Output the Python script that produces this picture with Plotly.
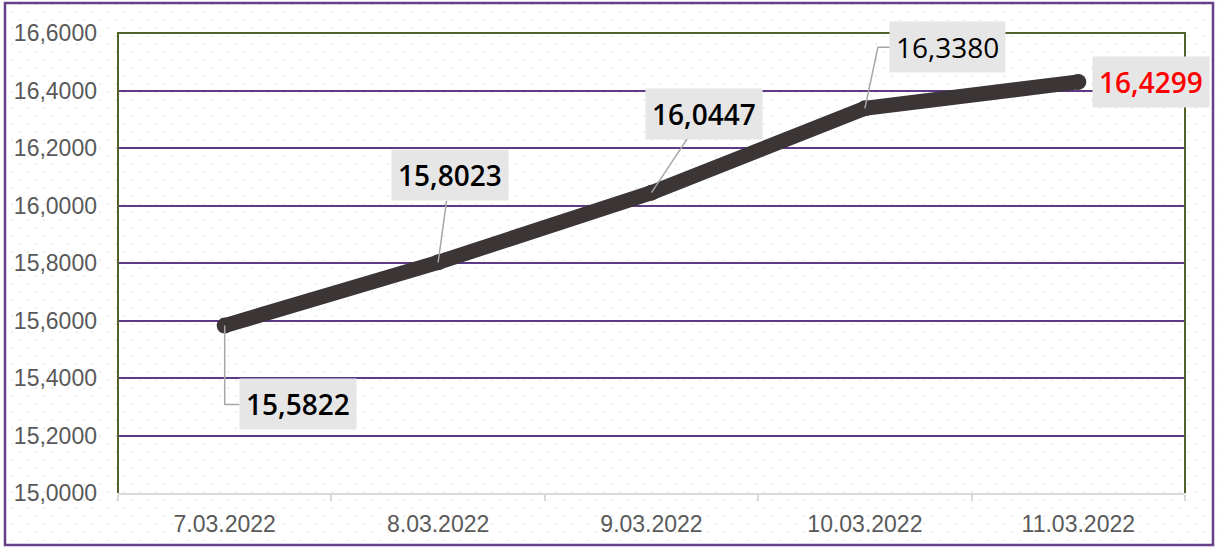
import base64
import plotly.graph_objects as go

# ---- data ----
categories = ["7.03.2022", "8.03.2022", "9.03.2022", "10.03.2022", "11.03.2022"]
values = [15.5822, 15.8023, 16.0447, 16.3380, 16.4299]
y_ticks = [15.0, 15.2, 15.4, 15.6, 15.8, 16.0, 16.2, 16.4, 16.6]

# ---- layout constants ----
W, H = 1220, 548
ML, MR, MT, MB = 118, 35, 33, 55
PW, PH = W - ML - MR, H - MT - MB

def px_to_paper_x(px):
    return (px - ML) / PW

def px_to_paper_y(py):
    return (H - MB - py) / PH

LINE_COLOR = "#3b3536"
GRID_COLOR = "#5e3a86"
GREEN = "#4f6228"
LABEL_BG = "#e7e6e6"
LEADER = "#a6a6a6"

# dotted background pattern as svg data uri
svg = (
    f'<svg xmlns="http://www.w3.org/2000/svg" width="{W}" height="{H}">'
    '<defs><pattern id="p" width="16" height="16" patternUnits="userSpaceOnUse">'
    '<rect x="3.5" y="3.5" width="1.4" height="1.4" fill="#dcdcdc"/>'
    '<rect x="11.5" y="11.5" width="1.4" height="1.4" fill="#dcdcdc"/>'
    '</pattern></defs>'
    f'<rect width="{W}" height="{H}" fill="url(#p)"/></svg>'
)
svg_uri = "data:image/svg+xml;base64," + base64.b64encode(svg.encode()).decode()

fig = go.Figure()
fig.add_trace(go.Scatter(
    x=categories, y=values, mode="lines+markers",
    line=dict(color=LINE_COLOR, width=15),
    marker=dict(color=LINE_COLOR, size=16),
    hoverinfo="skip", showlegend=False,
))

def fmt(v):
    return f"{v:.4f}".replace(".", ",")

# label styles: (ax, ay, weight, color, arrow)
label_style = [
    (73, 78, 600, "#000000", False),
    (12, -87, 600, "#000000", True),
    (52.5, -79, 600, "#000000", True),
    (83, -61, 400, "#000000", False),
    (73, 0, 600, "#ff0000", False),
]

annotations = []
for c, v, (ax, ay, w, col, arrow) in zip(categories, values, label_style):
    annotations.append(dict(
        x=c, y=v, xref="x", yref="y", text=fmt(v),
        showarrow=True, ax=ax, ay=ay, axref="pixel", ayref="pixel",
        arrowhead=0, arrowwidth=1.5,
        arrowcolor=LEADER if arrow else "rgba(0,0,0,0)",
        standoff=0, startstandoff=0,
        bgcolor=LABEL_BG, borderpad=6,
        font=dict(family="Open Sans, Noto Sans, sans-serif", size=28, color=col, weight=w),
    ))

shapes = [
    # outer purple border
    dict(type="rect", xref="paper", yref="paper",
         x0=px_to_paper_x(5), x1=px_to_paper_x(1213),
         y0=px_to_paper_y(545), y1=px_to_paper_y(3),
         line=dict(color="#66418a", width=2.5), layer="above"),
    # green plot-area border (left, top, right)
    dict(type="path", xref="paper", yref="paper",
         path="M0,0 L0,1 L1,1 L1,0",
         line=dict(color=GREEN, width=2), layer="above"),
    # elbow leader lines
    dict(type="path", xref="x", yref="y", xsizemode="pixel", ysizemode="pixel",
         xanchor=0, yanchor=values[0], path="M0,0 L0,-79 L15,-79",
         line=dict(color=LEADER, width=1.5), layer="above"),
    dict(type="path", xref="x", yref="y", xsizemode="pixel", ysizemode="pixel",
         xanchor=3, yanchor=values[3], path="M0,0 L13,61 L26,61",
         line=dict(color=LEADER, width=1.5), layer="above"),
]

fig.update_layout(
    width=W, height=H,
    margin=dict(l=ML, r=MR, t=MT, b=MB, pad=0),
    paper_bgcolor="white", plot_bgcolor="rgba(0,0,0,0)",
    separators=", ",
    showlegend=False,
    annotations=annotations,
    shapes=shapes,
    images=[dict(source=svg_uri, xref="paper", yref="paper",
                 x=px_to_paper_x(0), y=px_to_paper_y(0),
                 sizex=W / PW, sizey=H / PH, sizing="stretch",
                 xanchor="left", yanchor="top", layer="below")],
    xaxis=dict(
        type="category", categoryorder="array", categoryarray=categories,
        range=[-0.5, len(categories) - 0.5],
        tickson="boundaries", ticks="outside", ticklen=6, tickwidth=2,
        tickcolor="#d9d9d9", showline=True, linecolor="#d9d9d9", linewidth=2,
        showgrid=False, zeroline=False, ticklabelstandoff=9,
        tickfont=dict(family="Liberation Sans, Arial, sans-serif", size=23, color="#595959"),
    ),
    yaxis=dict(
        range=[15.0, 16.6], tickvals=y_ticks, tickformat=".4f",
        showgrid=True, gridcolor=GRID_COLOR, gridwidth=2,
        zeroline=False, showline=False, ticks="",
        ticklabelstandoff=20,
        tickfont=dict(family="Liberation Sans, Arial, sans-serif", size=23, color="#595959"),
    ),
)

fig.write_html(
    "out.html",
    config={"displayModeBar": False, "staticPlot": True},
    post_script="document.body.style.margin='0';document.body.style.overflow='hidden';",
)
